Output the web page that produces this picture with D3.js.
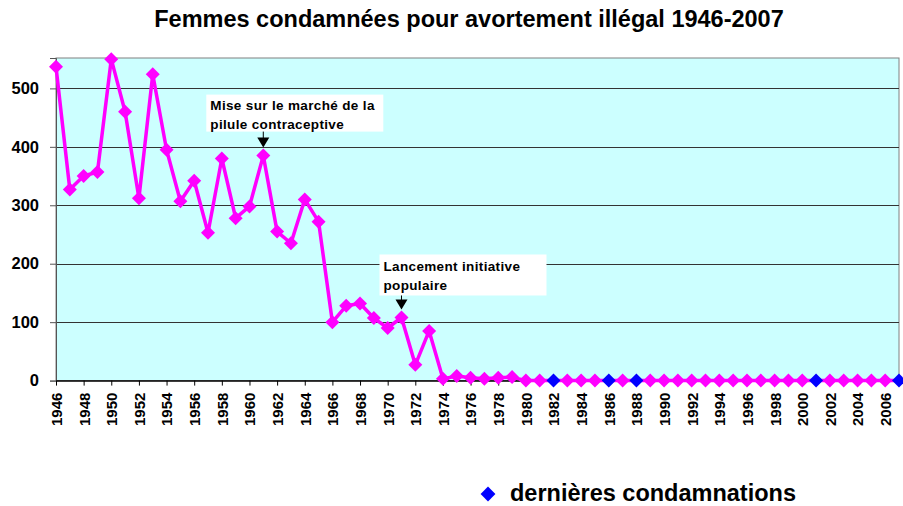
<!DOCTYPE html>
<html>
<head>
<meta charset="utf-8">
<script src="https://cdn.jsdelivr.net/npm/d3@7"></script>
<style>
  body { margin: 0; background: #fff; }
  text { font-family: "Liberation Sans", Arial, sans-serif; }
</style>
</head>
<body>
<svg id="chart" width="903" height="506"></svg>
<script>
// data
var years = d3.range(1946, 2008);
var condamnations = [537, 327, 350, 357, 550, 460, 312, 524, 395, 307,
  342, 253, 380, 278, 298, 385, 255, 235, 310, 272,
  100, 128, 132, 107, 90, 108, 27, 85, 3, 8,
  5, 3, 5, 6, 0, 0, 0, 0, 0, 0,
  0, 0, 0, 0, 0, 0, 0, 0, 0, 0,
  0, 0, 0, 0, 0, 0, 0, 0, 0, 0,
  0, 0];
var lastYears = [1982, 1986, 1988, 2001, 2007];
var yTicks = [0, 100, 200, 300, 400, 500];
var notes = [
  { year: 1961, lines: ["Mise sur le marché de la", "pilule contraceptive"] },
  { year: 1971, lines: ["Lancement initiative", "populaire"] }
];

var svg = d3.select("#chart");
var pLeft = 56, pRight = 899, pTop = 58, pBottom = 380.6;

var x = d3.scalePoint().domain(years).range([pLeft, pRight]);
var y = d3.scaleLinear().domain([0, 552]).range([pBottom, pTop]);

// title
svg.append("text")
  .attr("x", 469).attr("y", 27)
  .attr("text-anchor", "middle")
  .attr("font-size", "23.5px").attr("font-weight", "bold")
  .text("Femmes condamnées pour avortement illégal 1946-2007");

// plot background
svg.append("rect")
  .attr("x", pLeft).attr("y", pTop)
  .attr("width", pRight - pLeft).attr("height", pBottom - pTop)
  .attr("fill", "#ccffff")
  .attr("stroke", "#808080").attr("stroke-width", 1);

// gridlines
svg.append("g").selectAll("line")
  .data(yTicks.slice(1)).enter().append("line")
  .attr("x1", pLeft).attr("x2", pRight)
  .attr("y1", function(d) { return Math.round(y(d)) + 0.5; })
  .attr("y2", function(d) { return Math.round(y(d)) + 0.5; })
  .attr("stroke", "#333").attr("stroke-width", 1);

// y axis
var yAxis = d3.axisLeft(y).tickValues(yTicks).tickSize(6).tickPadding(11);
var gy = svg.append("g").attr("transform", "translate(" + pLeft + ",0)").call(yAxis);
gy.select(".domain").attr("stroke", "#555");
gy.selectAll(".tick line").attr("stroke", "#555");
gy.selectAll("text").attr("font-size", "16.5px").attr("font-weight", "bold")
  .attr("fill", "#000").attr("font-family", "Liberation Sans, Arial, sans-serif");

// x axis
var xAxis = d3.axisBottom(x)
  .tickValues(years.filter(function(d) { return (d - 1946) % 2 === 0; }))
  .tickSize(5).tickSizeOuter(0);
var gx = svg.append("g").attr("transform", "translate(0," + pBottom + ")").call(xAxis);
gx.select(".domain").attr("stroke", "#000").attr("stroke-width", 1.5);
gx.selectAll(".tick line").attr("stroke", "#000");
gx.selectAll("text")
  .attr("font-size", "15px").attr("font-weight", "bold").attr("fill", "#000")
  .attr("font-family", "Liberation Sans, Arial, sans-serif")
  .attr("transform", "rotate(-90)")
  .attr("text-anchor", "end")
  .attr("x", -12).attr("y", 0).attr("dy", "0.36em");

// the line
var pts = years.map(function(d, i) { return [d, condamnations[i]]; });
svg.append("path")
  .datum(pts)
  .attr("fill", "none")
  .attr("stroke", "#ff00ff").attr("stroke-width", 3.5)
  .attr("stroke-linejoin", "round")
  .attr("d", d3.line().x(function(d) { return x(d[0]); }).y(function(d) { return y(d[1]); }));

// markers
var diamond = d3.symbol().type(d3.symbolDiamond2).size(125);
svg.append("g").selectAll("path")
  .data(pts).enter().append("path")
  .attr("d", diamond)
  .attr("transform", function(d) { return "translate(" + x(d[0]) + "," + y(d[1]) + ")"; })
  .attr("fill", function(d) { return lastYears.indexOf(d[0]) >= 0 ? "#0000ff" : "#ff00ff"; });

// annotations
var boxW = [177, 167];
notes.forEach(function(n, k) {
  var px = x(n.year), py = y(condamnations[years.indexOf(n.year)]);
  var bx = k === 0 ? px - 57 : px - 22;
  var by = k === 0 ? py - 61 : py - 63;
  var bh = k === 0 ? 37 : 41;
  var g = svg.append("g");
  g.append("rect").attr("x", bx).attr("y", by).attr("width", boxW[k]).attr("height", bh).attr("fill", "#fff");
  n.lines.forEach(function(t, j) {
    g.append("text").attr("x", bx + 4).attr("y", by + (k === 0 ? 15 : 17) + j * 19)
      .attr("font-size", "13.5px").attr("font-weight", "bold")
      .attr("letter-spacing", "0.35px")
      .text(t);
  });
  var ay0 = by + bh, ay1 = py - 8;
  g.append("line").attr("x1", px).attr("x2", px).attr("y1", ay0).attr("y2", ay1 - 9)
    .attr("stroke", "#000").attr("stroke-width", 1);
  g.append("path")
    .attr("d", "M" + (px - 6) + "," + (ay1 - 10) + "L" + (px + 6) + "," + (ay1 - 10) + "L" + px + "," + ay1 + "Z")
    .attr("fill", "#000");
});

// legend
svg.append("path")
  .attr("d", d3.symbol().type(d3.symbolDiamond2).size(140))
  .attr("transform", "translate(488,494)")
  .attr("fill", "#0000ff");
svg.append("text")
  .attr("x", 510).attr("y", 501)
  .attr("font-size", "23.5px").attr("font-weight", "bold")
  .text("dernières condamnations");
</script>
</body>
</html>
